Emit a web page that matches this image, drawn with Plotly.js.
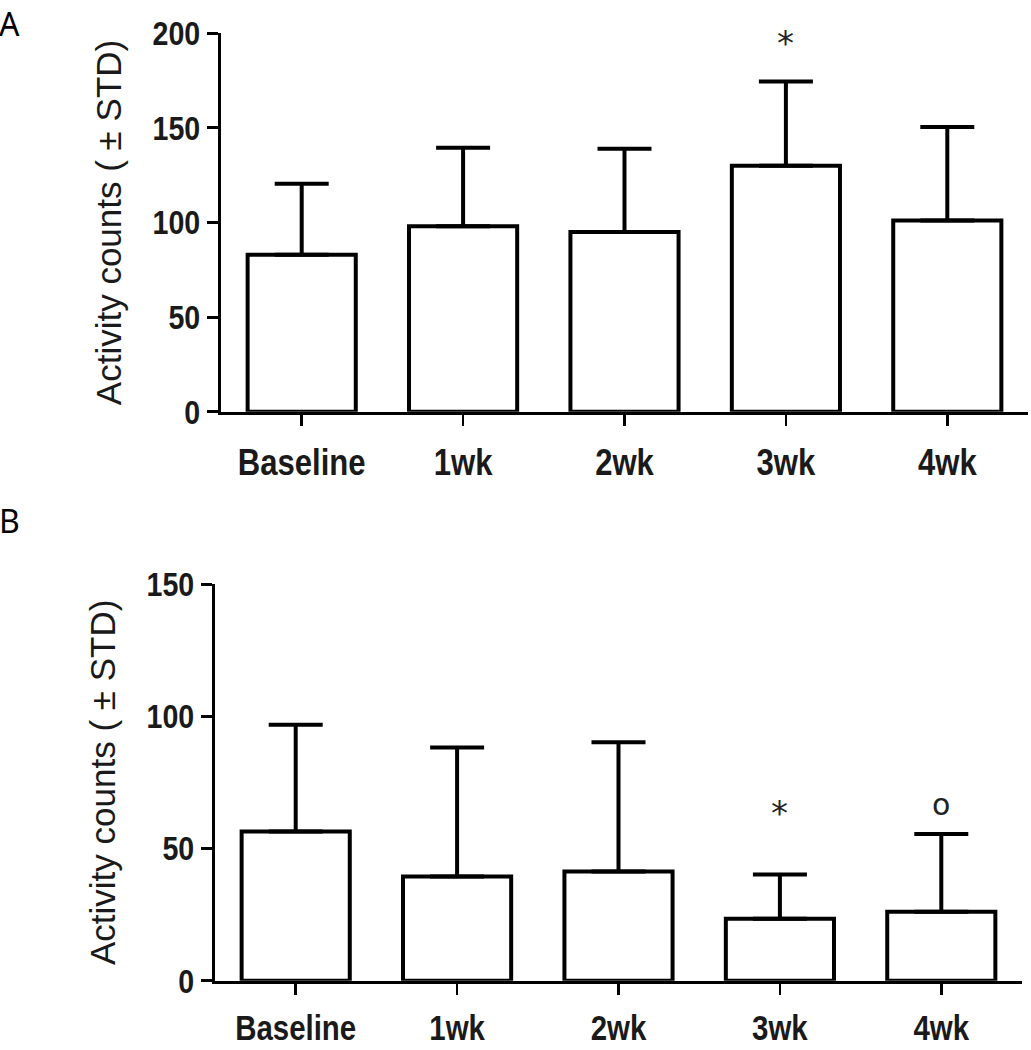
<!DOCTYPE html>
<html>
<head>
<meta charset="utf-8">
<script src="https://cdn.plot.ly/plotly-3.0.1.min.js"></script>
<style>html,body{margin:0;padding:0;background:#fff;}#chart{width:1031px;height:1050px;}</style>
</head>
<body>
<div id="chart"></div>
<script>
const categories = ['Baseline', '1wk', '2wk', '3wk', '4wk'];
const meanA = [83, 98, 95, 130, 101];
const stdA = [37.5, 41.5, 44, 44.5, 49.5];
const meanB = [56.4, 39.4, 41.3, 23.4, 26.1];
const stdB = [40.4, 48.8, 48.9, 16.8, 29.4];
const yTicksA = [0, 50, 100, 150, 200];
const yTicksB = [0, 50, 100, 150];
const sigA = ['', '', '', '*', ''];
const sigB = ['', '', '', '*', 'o'];
const yTitle = 'Activity counts ( \u00b1 STD)';

const sans = 'Liberation Sans, Arial, sans-serif';

function barTrace(means, stds, xa, ya) {
  return {
    type: 'bar', x: categories, y: means, xaxis: xa, yaxis: ya,
    width: 0.67,
    marker: {color: '#ffffff', line: {color: '#000000', width: 4}},
    error_y: {type: 'data', array: stds, arrayminus: means.map(() => 0), symmetric: false,
      color: '#000000', thickness: 4, width: 27},
    showlegend: false, hoverinfo: 'skip'
  };
}

const data = [barTrace(meanA, stdA, 'x', 'y'), barTrace(meanB, stdB, 'x2', 'y2')];

function xAxis(domain, anchor, size, standoff) {
  return {domain: domain, anchor: anchor, type: 'category', range: [-0.5, 4.5],
    showline: true, linecolor: '#000', linewidth: 3, ticks: 'outside', ticklen: 11,
    tickwidth: 2.5, tickcolor: '#000', showgrid: false, zeroline: false,
    tickfont: {family: sans, size: size, color: '#1a1a1a', weight: 'bold'}, ticklabelstandoff: standoff,
    fixedrange: true};
}
function yAxis(domain, anchor, range, ticks) {
  return {domain: domain, anchor: anchor, range: range, tickvals: ticks,
    showline: true, linecolor: '#000', linewidth: 3, ticks: 'outside', ticklen: 11,
    tickwidth: 3, tickcolor: '#000', showgrid: false, zeroline: false,
    tickfont: {family: sans, size: 34, color: '#1a1a1a', weight: 'bold'},
    title: {text: yTitle, font: {family: sans, size: 35, color: '#1a1a1a'}, standoff: 12},
    fixedrange: true};
}

const annotations = [];
function addSig(sig, means, stds, xa, ya, shifts) {
  sig.forEach((s, i) => {
    if (!s) return;
    annotations.push({xref: xa, yref: ya, x: categories[i], y: means[i] + stds[i], text: s,
      showarrow: false, yanchor: 'bottom', yshift: shifts[s],
      font: {family: 'DejaVu Sans', size: s === '*' ? 34 : 30, color: '#222'}});
  });
}
addSig(sigA, meanA, stdA, 'x', 'y', {'*': 17});
addSig(sigB, meanB, stdB, 'x2', 'y2', {'*': 39, 'o': 10});

annotations.push({xref: 'paper', yref: 'paper', x: 0, y: 1, xanchor: 'left', yanchor: 'top',
  text: 'A', showarrow: false, font: {family: 'Noto Sans', size: 32, color: '#000'}, xshift: -3});
annotations.push({xref: 'paper', yref: 'paper', x: 0, y: 1 - 497 / 1050, xanchor: 'left', yanchor: 'top',
  text: 'B', showarrow: false, font: {family: 'Noto Sans', size: 32, color: '#000'}, xshift: -3});

const layout = {
  width: 1031, height: 1050,
  margin: {l: 0, r: 0, t: 0, b: 0},
  paper_bgcolor: '#fff', plot_bgcolor: '#fff',
  xaxis: xAxis([221 / 1031, 1028 / 1031], 'y', 37, 5),
  yaxis: yAxis([1 - 411.7 / 1050, 1 - 33.3 / 1050], 'x', [0, 200], yTicksA),
  xaxis2: xAxis([215 / 1031, 1022 / 1031], 'y2', 35, 3),
  yaxis2: yAxis([1 - 980.7 / 1050, 1 - 584 / 1050], 'x2', [0, 150], yTicksB),
  annotations: annotations
};

// condense the bold tick labels to a narrow face (glyphs kept as real text)
function condense(gd) {
  gd.querySelectorAll('.xtick text, .ytick text, .x2tick text, .y2tick text').forEach(el => {
    const w = el.getComputedTextLength();
    if (w > 0) {
      el.setAttribute('textLength', (w * 0.84).toFixed(1));
      el.setAttribute('lengthAdjust', 'spacingAndGlyphs');
    }
  });
}

Plotly.newPlot('chart', data, layout, {displayModeBar: false, staticPlot: true})
  .then(gd => condense(gd));
</script>
</body>
</html>
